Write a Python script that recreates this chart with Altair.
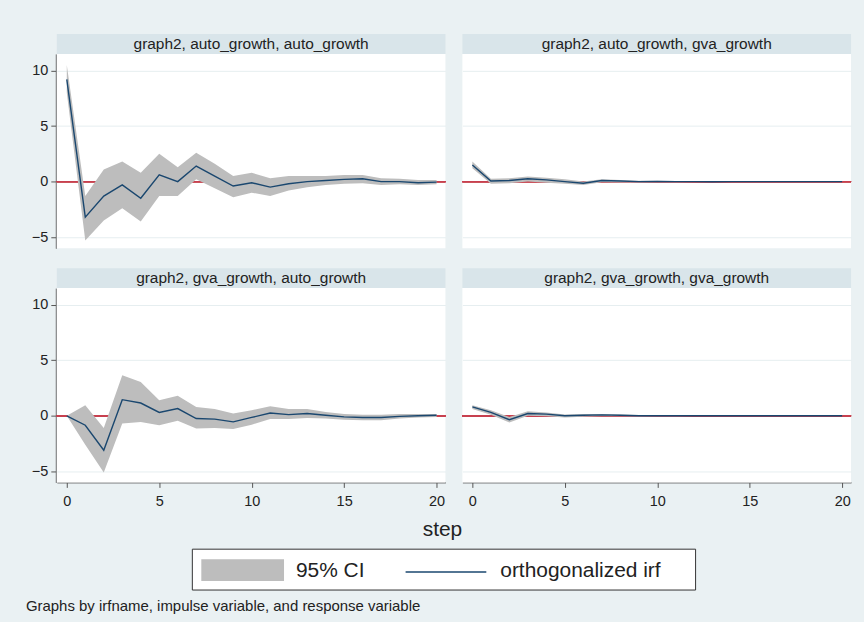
import altair as alt
import pandas as pd

# ---- data ----
steps = list(range(21))

panels = [
    ("auto_growth", "auto_growth", "graph2, auto_growth, auto_growth"),
    ("auto_growth", "gva_growth", "graph2, auto_growth, gva_growth"),
    ("gva_growth", "auto_growth", "graph2, gva_growth, auto_growth"),
    ("gva_growth", "gva_growth", "graph2, gva_growth, gva_growth"),
]

irf_aa = [9.2, -3.2, -1.3, -0.3, -1.5, 0.6, 0.0, 1.4, 0.5, -0.4, -0.1, -0.5, -0.2, 0.0, 0.1, 0.2, 0.25, 0.0, 0.0, -0.1, -0.05]
lo_aa = [8.0, -5.3, -3.5, -2.4, -3.6, -1.3, -1.3, 0.2, -0.6, -1.4, -1.0, -1.3, -0.8, -0.5, -0.3, -0.2, -0.15, -0.3, -0.25, -0.3, -0.25]
hi_aa = [10.5, -1.3, 1.1, 1.8, 0.8, 2.5, 1.3, 2.6, 1.6, 0.5, 0.8, 0.3, 0.5, 0.5, 0.5, 0.6, 0.6, 0.3, 0.25, 0.15, 0.15]

irf_ag = [1.5, 0.05, 0.1, 0.25, 0.15, 0.0, -0.15, 0.1, 0.05, 0.0, 0.02, 0.0, 0.0, -0.02, 0.0, 0.0, 0.0, 0.0, 0.0, 0.0, 0.0]
lo_ag = [1.2, -0.2, -0.15, 0.0, -0.1, -0.2, -0.3, -0.05, -0.08, -0.08, -0.05, -0.05, -0.04, -0.04, -0.03, -0.03, -0.02, -0.02, -0.02, -0.02, -0.02]
hi_ag = [1.8, 0.25, 0.3, 0.45, 0.35, 0.2, 0.0, 0.2, 0.15, 0.08, 0.08, 0.05, 0.04, 0.03, 0.03, 0.03, 0.02, 0.02, 0.02, 0.02, 0.02]

irf_ga = [0.0, -0.85, -3.1, 1.45, 1.15, 0.3, 0.65, -0.25, -0.3, -0.55, -0.15, 0.25, 0.1, 0.2, 0.05, -0.1, -0.15, -0.15, -0.05, 0.0, 0.05]
lo_ga = [0.0, -2.6, -5.1, -0.7, -0.55, -0.85, -0.45, -1.15, -1.1, -1.2, -0.8, -0.3, -0.3, -0.2, -0.25, -0.35, -0.4, -0.4, -0.25, -0.15, -0.1]
hi_ga = [0.0, 0.95, -1.1, 3.65, 3.05, 1.4, 1.8, 0.8, 0.6, 0.2, 0.5, 0.85, 0.6, 0.6, 0.35, 0.15, 0.1, 0.1, 0.15, 0.15, 0.15]

irf_gg = [0.8, 0.3, -0.35, 0.2, 0.15, 0.0, 0.05, 0.08, 0.05, 0.0, 0.0, 0.0, 0.0, 0.0, 0.0, 0.0, 0.0, 0.0, 0.0, 0.0, 0.0]
lo_gg = [0.6, 0.1, -0.6, 0.0, -0.05, -0.15, -0.08, -0.04, -0.05, -0.06, -0.05, -0.04, -0.03, -0.03, -0.02, -0.02, -0.02, -0.02, -0.02, -0.02, -0.02]
hi_gg = [0.95, 0.5, -0.1, 0.4, 0.3, 0.12, 0.15, 0.15, 0.12, 0.06, 0.05, 0.04, 0.03, 0.03, 0.02, 0.02, 0.02, 0.02, 0.02, 0.02, 0.02]

series = [(irf_aa, lo_aa, hi_aa), (irf_ag, lo_ag, hi_ag), (irf_ga, lo_ga, hi_ga), (irf_gg, lo_gg, hi_gg)]

y_ticks = [-5, 0, 5, 10]
x_ticks = [0, 5, 10, 15, 20]
legend_labels = ["95% CI", "orthogonalized irf"]
x_title = "step"
note = "Graphs by irfname, impulse variable, and response variable"

rows = []
for (imp, resp, lab), (irf, lo, hi) in zip(panels, series):
    for s, v, l, h in zip(steps, irf, lo, hi):
        rows.append({"impulse": imp, "response": resp, "label": lab,
                     "step": s, "irf": v, "lo": l, "hi": h})
df = pd.DataFrame(rows)

# ---- styling ----
BG = "#eaf1f3"
STRIP = "#d9e5ea"
CI = "#bdbdbd"
LINE = "#1a476f"
ZERO = "#c8414f"
FONT = "Liberation Sans"
PW, PH = 390, 195

xs = alt.Scale(domain=[-0.54, 20.48], nice=False, zero=False)
ys = alt.Scale(domain=[-6.0, 11.5], nice=False, zero=False)

base = alt.Chart(df)

strip = base.mark_rect(fill=STRIP, clip=False).encode(
    x=alt.value(0), x2=alt.value(PW), y=alt.value(-20), y2=alt.value(0)
).transform_filter(alt.datum.step == 0)

strip_text = base.mark_text(font=FONT, fontSize=15.5, color="#222222",
                            baseline="middle", align="center").encode(
    x=alt.value(PW / 2), y=alt.value(-10), text="label:N"
).transform_filter(alt.datum.step == 0)

zero = base.mark_rule(color=ZERO, strokeWidth=1).encode(y=alt.datum(0))

area = base.mark_area(color=CI, opacity=1).encode(
    x=alt.X("step:Q", scale=xs,
            axis=alt.Axis(values=x_ticks, title=None, grid=False, format="d",
                          labelPadding=7)),
    y=alt.Y("lo:Q", scale=ys,
            axis=alt.Axis(values=y_ticks, title=None, grid=True, format="d",
                          labelPadding=3)),
    y2="hi:Q",
)

line = base.mark_line(color=LINE, strokeWidth=1.4).encode(
    x=alt.X("step:Q", scale=xs),
    y=alt.Y("irf:Q", scale=ys),
)

panel = alt.layer(strip, strip_text, zero, area, line).properties(width=PW, height=PH)

facet = panel.facet(
    row=alt.Row("impulse:N", header=alt.Header(title=None, labels=False),
                sort=["auto_growth", "gva_growth"]),
    column=alt.Column("response:N", header=alt.Header(title=None, labels=False),
                      sort=["auto_growth", "gva_growth"]),
    spacing={"row": 20, "column": 15},
)

# ---- bottom: axis title, legend box, note ----
ldf = pd.DataFrame({"k": [0]})
lb = alt.Chart(ldf)
step_t = lb.mark_text(font=FONT, fontSize=21, color="#222222", align="center",
                      baseline="middle").encode(
    x=alt.value(387), y=alt.value(15), text=alt.value(x_title))
box = lb.mark_rect(fill="white", stroke="#333333", strokeWidth=1).encode(
    x=alt.value(136), x2=alt.value(641), y=alt.value(34), y2=alt.value(75))
sw = lb.mark_rect(fill=CI).encode(
    x=alt.value(145), x2=alt.value(228), y=alt.value(44), y2=alt.value(66))
t1 = lb.mark_text(font=FONT, fontSize=21, color="#222222", align="left",
                  baseline="middle").encode(
    x=alt.value(240), y=alt.value(56), text=alt.value(legend_labels[0]))
ln = lb.mark_rule(color=LINE, strokeWidth=1.5).encode(
    x=alt.value(350), x2=alt.value(431), y=alt.value(57))
t2 = lb.mark_text(font=FONT, fontSize=21, color="#222222", align="left",
                  baseline="middle").encode(
    x=alt.value(445), y=alt.value(56), text=alt.value(legend_labels[1]))
nt = lb.mark_text(font=FONT, fontSize=15, color="#222222", align="left",
                  baseline="middle").encode(
    x=alt.value(-31), y=alt.value(91), text=alt.value(note))

bottom = alt.layer(step_t, box, sw, t1, ln, t2, nt).properties(
    width=795, height=100, view=alt.ViewBackground(fill=None, stroke=None))

chart = alt.vconcat(facet, bottom, spacing=7).properties(
    background=BG,
    padding={"left": 26, "top": 33, "right": 12, "bottom": 7},
).configure_view(
    fill="white", stroke=None
).configure_axis(
    labelFont=FONT, labelFontSize=14.5, labelColor="#222222",
    domainColor="#555555", tickColor="#555555", tickSize=5,
    gridColor="#e6eef0", gridWidth=1,
).configure_axisY(labelAngle=0)

chart.save("out.html", embed_options={"renderer": "svg", "actions": False})
